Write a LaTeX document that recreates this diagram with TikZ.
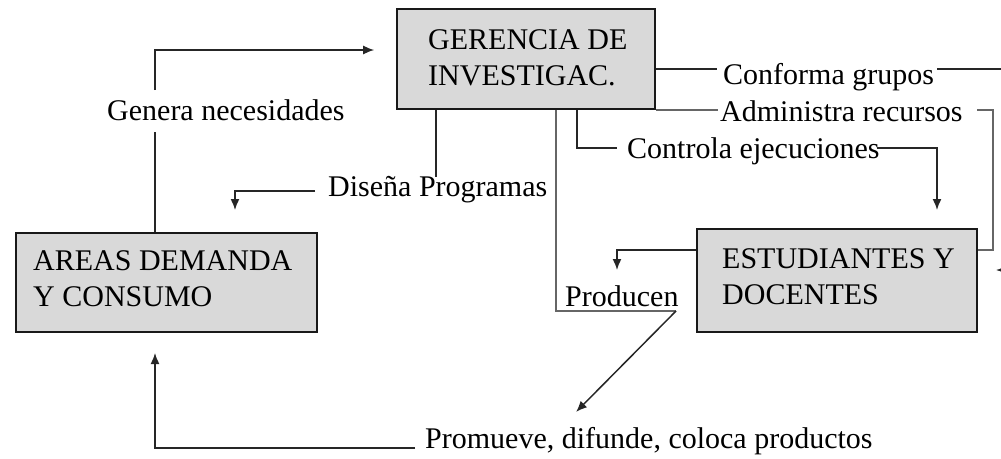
\documentclass[tikz,border=0pt]{standalone}
\usepackage{fontspec}
\setmainfont{Liberation Serif}
\usetikzlibrary{arrows.meta,calc}
\begin{document}
\begin{tikzpicture}[x=1pt,y=-1pt,
  box/.style={draw=black!90,line width=1.6pt,fill=gray!30,inner sep=0pt},
  boxtext/.style={align=left,font=\fontsize{30}{36}\selectfont,inner sep=0pt,anchor=north west},
  lbl/.style={font=\fontsize{30}{36}\selectfont,inner sep=0pt,anchor=base west},
  ln/.style={draw=black!85,line width=1.5pt},
  lng/.style={draw=black!60,line width=2pt},
  arr/.style={-{Latex[length=11pt,width=9pt]}},
]
\useasboundingbox (0,0) rectangle (1001,458);

% boxes
\node[box,minimum width=258pt,minimum height=100pt] (ger) at (526,59) {};
\node[box,minimum width=301pt,minimum height=99pt] (areas) at (166.5,282.5) {};
\node[box,minimum width=280pt,minimum height=103pt] (est) at (837,280.5) {};
\node[boxtext] (gert) at (428,29) {GERENCIA DE\\INVESTIGAC.};
\node[boxtext] (areast) at (33,250) {AREAS DEMANDA\\Y CONSUMO};
\node[boxtext] (estt) at (722,248) {ESTUDIANTES Y\\DOCENTES};

% labels
\node[lbl] (gen) at (107,120) {Genera necesidades};
\node[lbl] (dis) at (328,196) {Diseña Programas};
\node[lbl] (conf) at (723,84) {Conforma grupos};
\node[lbl] (adm) at (720,121) {Administra recursos};
\node[lbl] (con) at (627,158) {Controla ejecuciones};
\node[lbl] (pro) at (565,306) {Producen};
\node[lbl] (prom) at (425,448) {Promueve, difunde, coloca productos};

% helper coordinates
\coordinate (g1) at (155,132); \coordinate (g2) at (155,90); \coordinate (g3) at (155,50);
\coordinate (d1) at (436,177); \coordinate (d2) at (315,191); \coordinate (d3) at (235,210);
\coordinate (c1) at (717,69); \coordinate (c2) at (937,69); \coordinate (c3) at (1015,270);
\coordinate (c4) at (996,270);
\coordinate (a1) at (718,110); \coordinate (a2) at (977,110); \coordinate (a3) at (993,250);
\coordinate (e1) at (577,148); \coordinate (e2) at (617,148); \coordinate (e3) at (877,148); \coordinate (e4) at (937,210);
\coordinate (f1) at (556,311); \coordinate (f2) at (676,311); \coordinate (f3) at (576,412);
\coordinate (h1) at (617,250); \coordinate (h2) at (617,270);
\coordinate (p1) at (415,448); \coordinate (p2) at (155,353);

% Genera necesidades
\draw[ln] (areas.north -| g1) -- (g1);
\draw[ln,arr,shorten >=22pt] (g2) -- (g3) -- (ger.west |- g3);
% Diseña Programas
\draw[ln] (ger.south -| d1) -- (d1);
\draw[ln,arr] (d2) -| (d3);
% Conforma grupos
\draw[ln] (ger.east |- c1) -- (c1);
\draw[ln,arr] (c2) -| (c3) -- (c4);
% Administra recursos
\draw[lng] (ger.south east) -- (ger.south east -| a1);
\draw[lng] (a2) -| (a3) -- (est.east |- a3);
% Controla ejecuciones
\draw[ln] (ger.south -| e1) |- (e2);
\draw[ln,arr] (e3) -| (e4);
% Producen
\draw[lng] (ger.south -| f1) -- (f1) -- (f2);
\draw[ln,arr] (f2) -- (f3);
\draw[ln,arr] (est.west |- h1) -- (h1) -- (h2);
% Promueve
\draw[ln,arr] (p1) -| (p2);
\end{tikzpicture}
\end{document}
